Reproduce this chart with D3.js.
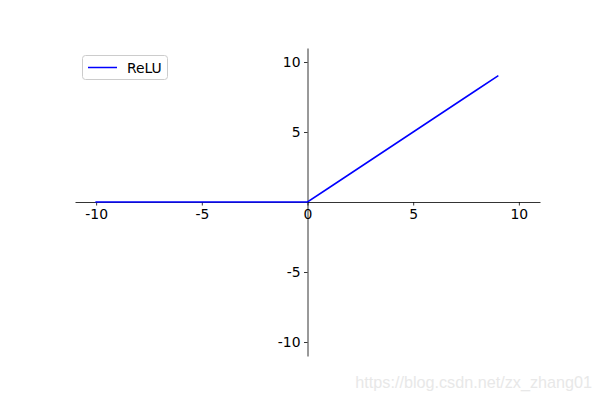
<!DOCTYPE html>
<html><head><meta charset="utf-8">
<script src="https://cdn.jsdelivr.net/npm/d3@7"></script>
<style>body{margin:0;background:#fff}svg{display:block}</style>
</head><body>
<svg id="c" width="600" height="400"></svg>
<script>
const xValues = [-10,-9,-8,-7,-6,-5,-4,-3,-2,-1,0,1,2,3,4,5,6,7,8,9];
const reluValues = [0,0,0,0,0,0,0,0,0,0,0,1,2,3,4,5,6,7,8,9];
const xTicks = [-10,-5,0,5,10];
const yTicks = [-10,-5,5,10];
const seriesName = "ReLU";
const watermark = "https://blog.csdn.net/zx_zhang01";

const svg = d3.select("#c");
const x = d3.scaleLinear().domain([-11,11]).range([75,540]);
const y = d3.scaleLinear().domain([-11,11]).range([356,48]);
const font = "DejaVu Sans, sans-serif";

const gx = svg.append("g").attr("transform",`translate(0,${y(0)})`)
  .call(d3.axisBottom(x).tickValues(xTicks).tickSize(3.5).tickPadding(3.5).tickFormat(d3.format("d")).tickSizeOuter(0));
gx.select(".domain").attr("stroke","#000").attr("stroke-width",0.8);
gx.selectAll(".tick line").attr("stroke","#000").attr("stroke-width",0.8);
gx.selectAll(".tick text").attr("font-family",font).attr("font-size","13.9px").attr("fill","#000")
  .text(d=>d<0?"-"+Math.abs(d):d);

const gy = svg.append("g").attr("transform",`translate(${x(0)},0)`)
  .call(d3.axisLeft(y).tickValues(yTicks).tickSize(3.5).tickPadding(3.5).tickFormat(d3.format("d")).tickSizeOuter(0));
gy.select(".domain").attr("stroke","#000").attr("stroke-width",0.8);
gy.selectAll(".tick line").attr("stroke","#000").attr("stroke-width",0.8);
gy.selectAll(".tick text").attr("font-family",font).attr("font-size","13.9px").attr("fill","#000")
  .text(d=>d<0?"-"+Math.abs(d):d);

svg.append("path").datum(xValues.map((v,i)=>[v,reluValues[i]]))
  .attr("fill","none").attr("stroke","#0000ff").attr("stroke-width",1.5)
  .attr("stroke-linecap","square")
  .attr("d",d3.line().x(d=>x(d[0])).y(d=>y(d[1])));

const lg = svg.append("g");
lg.append("rect").attr("x",82.5).attr("y",55.5).attr("width",85).attr("height",24).attr("rx",3)
  .attr("fill","#fff").attr("fill-opacity",0.8).attr("stroke","#cccccc").attr("stroke-width",1);
lg.append("line").attr("x1",88).attr("x2",117).attr("y1",67.5).attr("y2",67.5)
  .attr("stroke","#0000ff").attr("stroke-width",1.5);
lg.append("text").attr("x",127).attr("y",72.5).attr("font-family",font).attr("font-size","13.9px")
  .attr("fill","#000").text(seriesName);

svg.append("text").attr("x",592).attr("y",388).attr("text-anchor","end")
  .attr("font-family","Liberation Sans, Arial, sans-serif").attr("font-size","16.2px")
  .attr("fill","#e8e8e8").text(watermark);
</script>
</body></html>
